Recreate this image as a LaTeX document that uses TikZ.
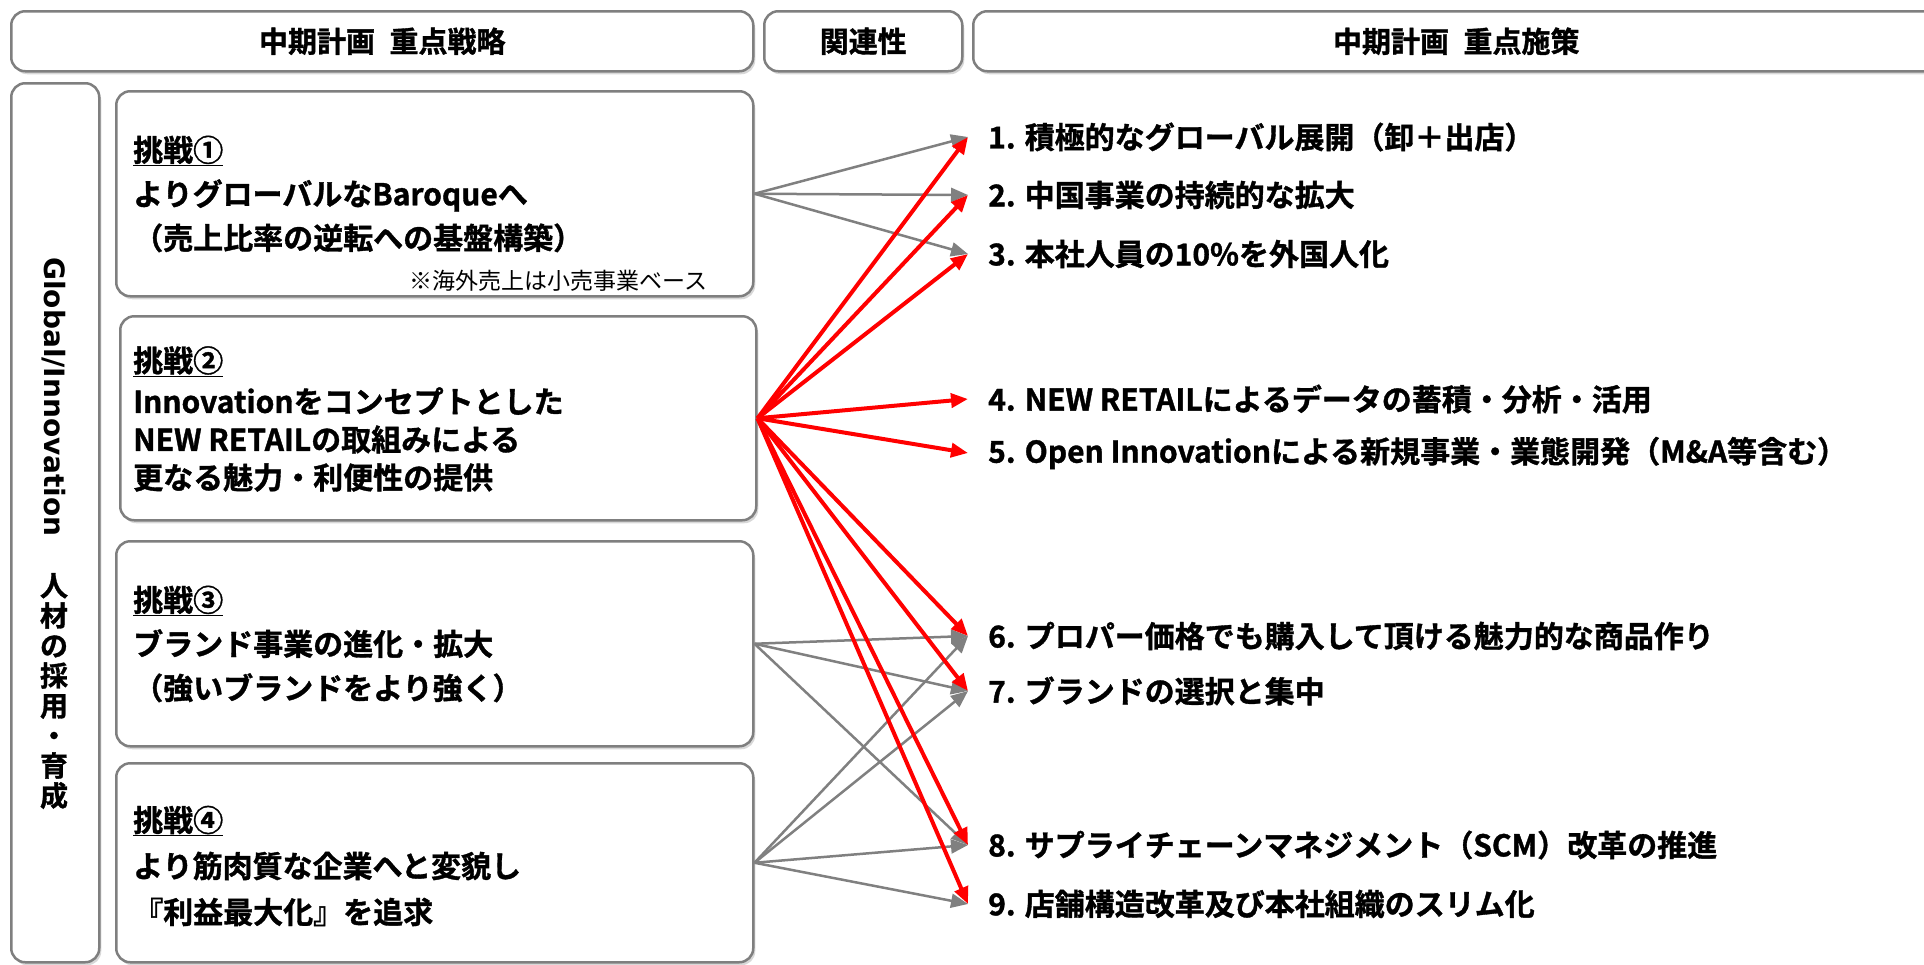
\documentclass[tikz,border=0pt]{standalone}
\usepackage{fontspec}
\setmainfont{Noto Sans CJK JP}[BoldFont={Noto Sans CJK JP Bold}, BoldFeatures={FakeBold=1.2}]
\newfontfamily\latfont{DejaVu Sans}[BoldFont={DejaVu Sans Bold}]
\usetikzlibrary{arrows.meta,shadows,calc}
\definecolor{bordergray}{HTML}{7F7F7F}
\definecolor{arrowgray}{HTML}{808080}
\definecolor{arrowred}{HTML}{FF0000}
\tikzset{
  panel/.style={draw=bordergray, line width=2.5pt, rounded corners=14pt, fill=white,
    drop shadow={shadow xshift=2pt, shadow yshift=-3pt, opacity=0.3},
    anchor=north west, inner sep=0pt},
  hdr/.style={font=\bfseries\fontsize{29}{34}\selectfont},
  body/.style={align=left, anchor=west, inner sep=0pt},
  item/.style={font=\bfseries\fontsize{30}{36}\selectfont, anchor=west, inner xsep=20pt, inner ysep=0pt},
  garrow/.style={draw=arrowgray, line width=2.5pt, -{Triangle[length=17pt,width=14pt]}},
  rarrow/.style={draw=arrowred, line width=4pt, -{Triangle[length=17pt,width=14pt]}},
}
\begin{document}
\begin{tikzpicture}[x=1pt,y=-1pt]
\useasboundingbox (0,0) rectangle (1924,964);
\fill[white] (0,0) rectangle (1924,964);

% header panels
\node[panel, hdr, minimum width=742pt, minimum height=60pt] (hd1) at (10,10) {中期計画\hspace{0.5em}重点戦略};
\node[panel, hdr, minimum width=198pt, minimum height=60pt] (hd2) at (763,10) {関連性};
\node[panel, hdr, minimum width=966pt, minimum height=60pt] (hd3) at (972,10) {中期計画\hspace{0.5em}重点施策};

% left vertical panel
\node[panel, minimum width=88pt, minimum height=879pt] (lp) at (10,82) {};
\node[font=\latfont\bfseries\fontsize{28}{32}\selectfont, rotate=-90] (gl) at (54,397) {Global/Innovation};
\node[font=\bfseries\fontsize{28}{30}\selectfont, align=center, inner sep=0pt] (hr) at (54,691) {人\\材\\の\\採\\用\\・\\育\\成};

% strategy panels
\node[panel, minimum width=637pt, minimum height=205pt] (b1) at (115,90) {};
\node[panel, minimum width=636pt, minimum height=204pt] (b2) at (119,315) {};
\node[panel, minimum width=637pt, minimum height=205pt] (b3) at (115,540) {};
\node[panel, minimum width=637pt, minimum height=199pt] (b4) at (115,762) {};

\node[body, font=\bfseries\fontsize{30}{44}\selectfont] (t1) at (133,194)
  {\underline{挑戦①}\\よりグローバルなBaroqueへ\\（売上比率の逆転への基盤構築）};
\node[anchor=east, inner sep=0pt, font=\fontsize{23}{26}\selectfont] (n1) at (708,281) {※海外売上は小売事業ベース};
\node[body, font=\bfseries\fontsize{30}{38}\selectfont] (t2) at (133,419)
  {\underline{挑戦②}\\[3pt]Innovationをコンセプトとした\\NEW RETAILの取組みによる\\更なる魅力・利便性の提供};
\node[body, font=\bfseries\fontsize{30}{44}\selectfont] (t3) at (133,644)
  {\underline{挑戦③}\\ブランド事業の進化・拡大\\（強いブランドをより強く）};
\node[body, font=\bfseries\fontsize{30}{46}\selectfont] (t4) at (133,866)
  {\underline{挑戦④}\\より筋肉質な企業へと変貌し\\『利益最大化』を追求};

% measures
\node[item] (i1) at (968,137) {1. 積極的なグローバル展開（卸＋出店）};
\node[item] (i2) at (968,195) {2. 中国事業の持続的な拡大};
\node[item] (i3) at (968,254) {3. 本社人員の10\%を外国人化};
\node[item] (i4) at (968,399) {4. NEW RETAILによるデータの蓄積・分析・活用};
\node[item] (i5) at (968,453) {5. Open Innovationによる新規事業・業態開発（M\&A等含む）};
\node[item] (i6) at (968,636) {6. プロパー価格でも購入して頂ける魅力的な商品作り};
\node[item] (i7) at (968,691) {7. ブランドの選択と集中};
\node[item] (i8) at (968,845) {8. サプライチェーンマネジメント（SCM）改革の推進};
\node[item] (i9) at (968,904) {9. 店舗構造改革及び本社組織のスリム化};

% gray relations
\foreach \t in {1,2,3} \draw[garrow] (b1.east) -- (i\t.west);
\foreach \t in {6,7,8} \draw[garrow] (b3.east) -- (i\t.west);
\foreach \t in {6,7,8,9} \draw[garrow] (b4.east) -- (i\t.west);
% red relations
\foreach \t in {1,...,9} \draw[rarrow] (b2.east) -- (i\t.west);
\end{tikzpicture}
\end{document}
